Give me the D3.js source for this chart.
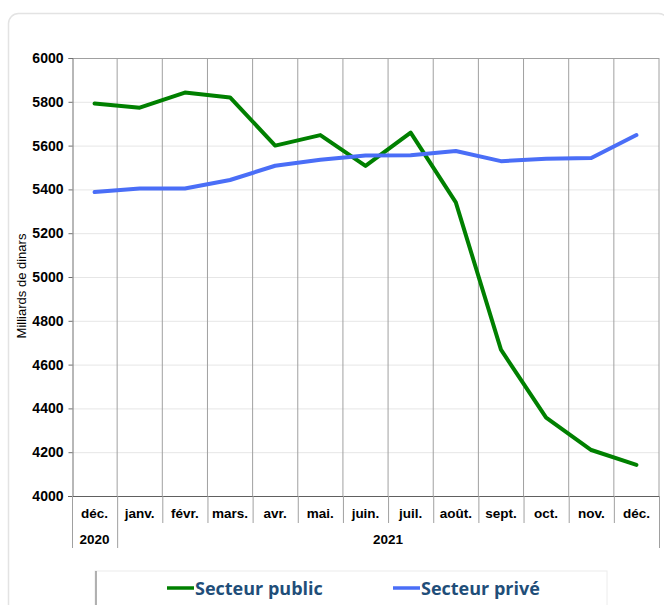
<!DOCTYPE html>
<html><head><meta charset="utf-8">
<script src="https://cdn.jsdelivr.net/npm/d3@7"></script>
<style>
body{margin:0;background:#fff;}
svg{display:block;}
</style></head>
<body>
<svg id="c" width="664" height="605"></svg>
<script>
const months = ["déc.","janv.","févr.","mars.","avr.","mai.","juin.","juil.","août.","sept.","oct.","nov.","déc."];
const years = [{label:"2020", from:0, to:1},{label:"2021", from:1, to:13}];
const secteurPublic = [5792,5773,5842,5820,5600,5648,5507,5659,5341,4668,4358,4210,4142];
const secteurPrive  = [5388,5404,5404,5443,5508,5535,5555,5556,5575,5529,5540,5543,5648];
const yTicks = [4000,4200,4400,4600,4800,5000,5200,5400,5600,5800,6000];
const seriesNames = ["Secteur public","Secteur privé"];
const seriesColors = ["#008000","#4a6ef7"];

const svg = d3.select("#c");
const L=72, R=659, T=58, B=496;
const FONT = "Liberation Sans, Arial, sans-serif";

// outer container
svg.append("rect").attr("x",8.5).attr("y",13.5).attr("width",660).attr("height",620)
  .attr("rx",10).attr("fill","#fff").attr("stroke","#e3e3e3").attr("stroke-width",1.5);

const x = d3.scaleBand().domain(d3.range(months.length)).range([L,R]).padding(0);
const y = d3.scaleLinear().domain([4000,6000]).range([B,T]);

// horizontal gridlines
svg.append("g").selectAll("line").data(yTicks.slice(1)).join("line")
  .attr("x1",L).attr("x2",R).attr("y1",d=>y(d)+0.5).attr("y2",d=>y(d)+0.5)
  .attr("stroke","#e6e6e6").attr("stroke-width",1);

// vertical gridlines
svg.append("g").selectAll("line").data(d3.range(1,months.length+1)).join("line")
  .attr("x1",d=>x.step()*d+L).attr("x2",d=>x.step()*d+L).attr("y1",T).attr("y2",B)
  .attr("stroke","#a0a0a0").attr("stroke-width",1);

// top border
svg.append("line").attr("x1",L).attr("x2",R).attr("y1",T+0.5).attr("y2",T+0.5).attr("stroke","#a0a0a0");

// y axis
const yAxis = d3.axisLeft(y).tickValues(yTicks).tickSize(4).tickPadding(5).tickFormat(d3.format("d"));
const ga = svg.append("g").attr("transform",`translate(${L+0.5},0)`).call(yAxis);
ga.select(".domain").attr("stroke","#707070");
ga.selectAll(".tick line").attr("stroke","#707070");
ga.selectAll(".tick text").attr("font-family",FONT)
  .attr("font-size",14).attr("font-weight","bold").attr("fill","#000");

// x axis line
svg.append("line").attr("x1",L-4).attr("x2",R).attr("y1",B+0.5).attr("y2",B+0.5).attr("stroke","#606060");

// x category separators
svg.append("g").selectAll("line").data(d3.range(0,months.length+1)).join("line")
  .attr("x1",d=>L+x.step()*d+0.5).attr("x2",d=>L+x.step()*d+0.5)
  .attr("y1",B).attr("y2",d=>(d===0||d===1||d===months.length)?548:523)
  .attr("stroke","#a0a0a0");

// month labels
svg.append("g").selectAll("text").data(months).join("text")
  .attr("x",(d,i)=>x(i)+x.bandwidth()/2).attr("y",518)
  .attr("text-anchor","middle").attr("font-family",FONT)
  .attr("font-size",13.5).attr("font-weight","bold").text(d=>d);

// year labels
svg.append("g").selectAll("text").data(years).join("text")
  .attr("x",d=>(L+x.step()*d.from + L+x.step()*d.to)/2).attr("y",544)
  .attr("text-anchor","middle").attr("font-family",FONT)
  .attr("font-size",13.5).attr("font-weight","bold").text(d=>d.label);

// y axis title
svg.append("text").attr("transform","translate(26,286) rotate(-90)")
  .attr("text-anchor","middle").attr("font-family",FONT)
  .attr("font-size",13).text("Milliards de dinars");

// lines
const line = d3.line().x((d,i)=>x(i)+x.bandwidth()/2).y(d=>y(d));
[secteurPublic, secteurPrive].forEach((s,k)=>{
  svg.append("path").datum(s).attr("d",line).attr("fill","none")
    .attr("stroke",seriesColors[k]).attr("stroke-width",4)
    .attr("stroke-linejoin","round").attr("stroke-linecap","round");
});

// legend
const lg = svg.append("g");
lg.append("rect").attr("x",95).attr("y",571).attr("width",512).attr("height",50)
  .attr("fill","#fff").attr("stroke","#ececec");
lg.append("line").attr("x1",96).attr("x2",96).attr("y1",571).attr("y2",605).attr("stroke","#999").attr("stroke-width",1.5);
const legX = [167,393];
seriesNames.forEach((n,k)=>{
  lg.append("line").attr("x1",legX[k]).attr("x2",legX[k]+27).attr("y1",588).attr("y2",588)
    .attr("stroke",seriesColors[k]).attr("stroke-width",3.5);
  lg.append("text").attr("x",legX[k]+28).attr("y",594.5)
    .attr("font-family","'Open Sans', Lato, sans-serif").attr("font-weight","bold")
    .attr("font-size",18).attr("fill","#1f4e79").text(n);
});
</script>
</body></html>
